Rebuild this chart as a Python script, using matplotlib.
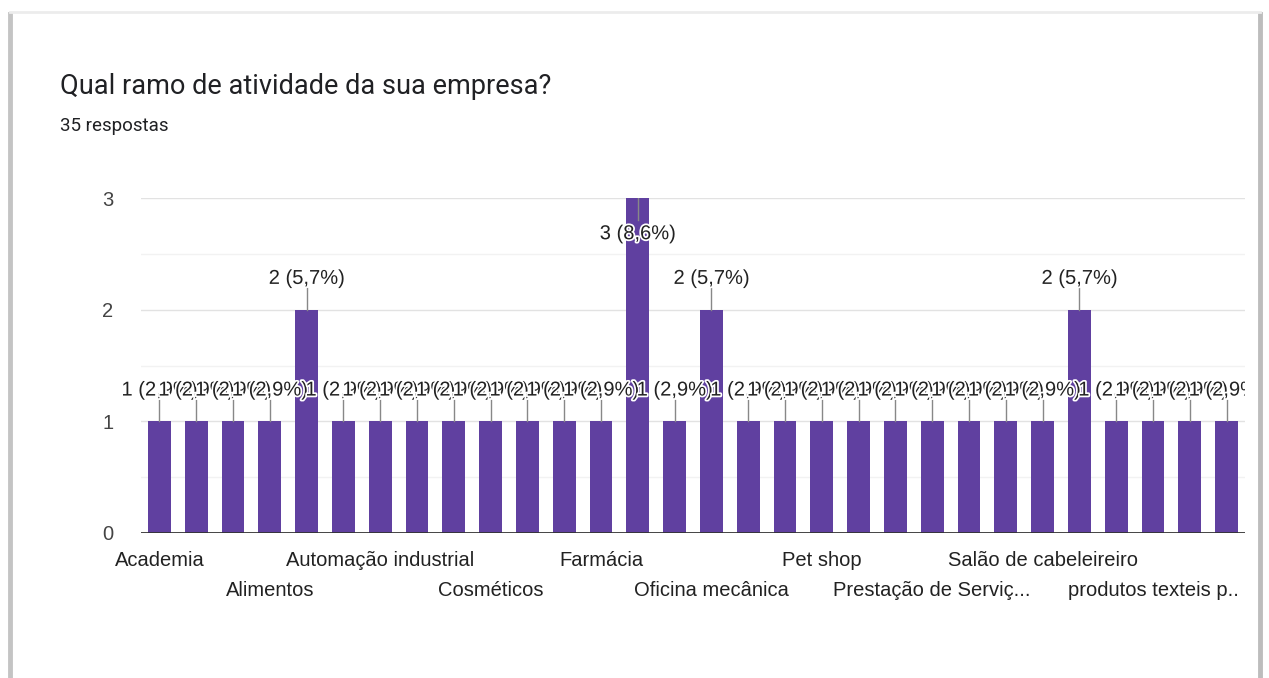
import matplotlib
matplotlib.use("Agg")
import matplotlib.pyplot as plt
import matplotlib.patheffects as pe
from matplotlib.lines import Line2D
from matplotlib.patches import Rectangle

title = "Qual ramo de atividade da sua empresa?"
subtitle = "35 respostas"
total = 35
categories = ["Academia", "", "", "Alimentos", "", "", "Automação industrial", "", "",
              "Cosméticos", "", "", "Farmácia", "", "", "Oficina mecânica", "", "",
              "Pet shop", "", "", "Prestação de Serviç...", "", "", "Salão de cabeleireiro",
              "", "", "produtos texteis p..", "", ""]
values = [1, 1, 1, 1, 2, 1, 1, 1, 1, 1, 1, 1, 1, 3, 1, 2, 1, 1, 1, 1,
          1, 1, 1, 1, 1, 2, 1, 1, 1, 1]
yticks = [0, 1, 2, 3]

W, H = 1269, 678
fig = plt.figure(figsize=(W / 100, H / 100), dpi=100)
fig.patch.set_facecolor("white")

def fx(p): return p / W
def fy(p): return 1 - p / H

# card border / shadow
fig.add_artist(Line2D([fx(10), fx(10)], [fy(14), fy(678)], color="#c4c4c4", lw=3.5, transform=fig.transFigure))
fig.add_artist(Line2D([fx(1260), fx(1260)], [fy(14), fy(678)], color="#bdbdbd", lw=3.5, transform=fig.transFigure))
fig.add_artist(Line2D([fx(10), fx(1260)], [fy(12), fy(12)], color="#ececec", lw=2, transform=fig.transFigure))

fig.text(fx(60), fy(87), title, fontfamily="Roboto", fontsize=19.5, color="#202124", va="center", ha="left")
fig.text(fx(60), fy(126), subtitle, fontfamily="Roboto", fontsize=13.5, color="#202124", va="center", ha="left")

ax = fig.add_axes([fx(141), fy(533), (1245 - 141) / W, (533 - 198) / H])
x = list(range(len(values)))
ax.bar(x, values, width=0.62, color="#6040a0", zorder=3)
ax.set_xlim(-0.5, len(values) - 0.5)
ax.set_ylim(0, 3)

for s in ax.spines.values():
    s.set_visible(False)
ax.axhline(0, color="#333333", lw=2, zorder=4)
for g in [0.5, 1.5, 2.5]:
    ax.axhline(g, color="#f2f2f2", lw=1, zorder=1)
for g in [1, 2, 3]:
    ax.axhline(g, color="#e2e2e2", lw=1, zorder=1)

ax.set_yticks(yticks)
ax.set_yticklabels([str(v) for v in yticks], fontfamily="Liberation Sans", fontsize=14.5, color="#444444")
ax.tick_params(axis="y", length=0, pad=20)
ax.set_xticks([])

# category labels (alternating rows)
for i, c in enumerate(categories):
    if not c:
        continue
    row = (i // 3) % 2
    ax.annotate(c, xy=(i, 0), xycoords="data", xytext=(0, -27 - row * 30),
                textcoords="offset pixels", ha="center", va="center",
                fontfamily="Liberation Sans", fontsize=14.5, color="#222222")

# clip region: everything left of the plot's right edge
clip_rect = Rectangle((0, 0), fx(1245), 1, transform=fig.transFigure, visible=False)
fig.add_artist(clip_rect)

# value labels with stems
ymax = 3
for i, v in enumerate(values):
    pct = f"{v / total * 100:.1f}".replace(".", ",")
    lab = f"{v} ({pct}%)"
    if v >= ymax:
        ax.plot([i, i], [v, v - 0.2], color="#888888", lw=1, zorder=5, clip_on=True)
        ty = v - 0.32
    else:
        ax.plot([i, i], [v, v + 0.19], color="#888888", lw=1, zorder=5, clip_on=True)
        ty = v + 0.28
    t = ax.text(i, ty, lab, ha="center", va="center", fontfamily="Liberation Sans",
                fontsize=14.5, color="#222222", zorder=6,
                path_effects=[pe.withStroke(linewidth=2.5, foreground="white")])
    t.set_clip_on(True)
    t.set_clip_path(clip_rect)

fig.savefig("out.png", dpi=100, facecolor="white")
